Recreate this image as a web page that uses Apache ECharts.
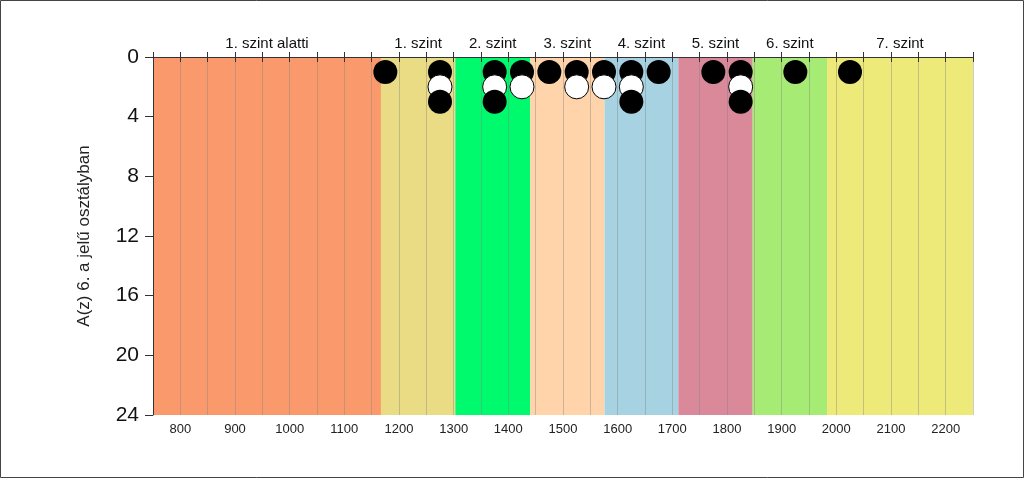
<!DOCTYPE html>
<html>
<head>
<meta charset="utf-8">
<script src="https://cdn.jsdelivr.net/npm/echarts@6/dist/echarts.min.js"></script>
<style>
  html, body { margin: 0; padding: 0; background: #fff; }
  #chart { width: 1024px; height: 478px; }
</style>
</head>
<body>
<div id="chart"></div>
<script>
// szintek (sávok) a skálán
const levelNames = ['1. szint alatti', '1. szint', '2. szint', '3. szint', '4. szint', '5. szint', '6. szint', '7. szint']
const levelBounds = [750, 1167, 1303, 1440, 1576, 1711, 1847, 1983, 2250]
const levelColors = ['#fa9a6c', '#e9dc84', '#00fa6e', '#ffd4aa', '#a6d2e2', '#d9899a', '#a6ec74', '#edea7a']

// tanulók pontjai, soronként (1., 2., 3. sor)
const row1X = [1175, 1275, 1375, 1425, 1475, 1525, 1575, 1625, 1675, 1775, 1825, 1925, 2025]
const row2X = [1275, 1375, 1425, 1525, 1575, 1625, 1825]
const row3X = [1275, 1375, 1625, 1825]
const rowY = [1, 2, 3]

// tengelyek
const xMin = 750
const xMax = 2250
const xStep = 50
const yMax = 24
const yStep = 4
const yName = 'A(z) 6. a jelű osztályban'

const bands = levelNames.map((name, i) => [
  { name: name, xAxis: levelBounds[i], itemStyle: { color: levelColors[i] } },
  { xAxis: levelBounds[i + 1] }
])

const chart = echarts.init(document.getElementById('chart'))
chart.setOption({
  animation: false,
  grid: { left: 153, right: 51, top: 57, bottom: 63 },
  graphic: [{
    type: 'rect',
    shape: { x: 0.5, y: 0.5, width: 1023, height: 477 },
    style: { fill: 'none', stroke: '#444', lineWidth: 1 },
    silent: true
  }],
  xAxis: [{
    type: 'value',
    position: 'bottom',
    min: xMin, max: xMax, interval: xStep,
    z: 3,
    axisLine: { lineStyle: { color: '#333' } },
    axisTick: { length: 5, lineStyle: { color: '#333' } },
    axisLabel: {
      color: '#222', fontFamily: 'Liberation Sans', fontSize: 13, margin: 8,
      formatter: v => (v % 100 === 0 ? String(v) : '')
    },
    splitLine: { show: true, lineStyle: { color: 'rgba(130,130,130,0.4)', width: 1 } }
  }, {
    type: 'value',
    position: 'top',
    min: xMin, max: xMax, interval: xStep,
    z: 3,
    axisLine: { lineStyle: { color: '#333' } },
    axisTick: { length: 5, lineStyle: { color: '#333' } },
    axisLabel: { show: false },
    splitLine: { show: false }
  }],
  yAxis: {
    type: 'value',
    inverse: true,
    min: 0, max: yMax, interval: yStep,
    z: 3,
    name: yName,
    nameLocation: 'middle',
    nameGap: 60,
    nameTextStyle: { color: '#222', fontFamily: 'Liberation Sans', fontSize: 17 },
    axisLine: { show: true, lineStyle: { color: '#333' } },
    axisTick: { show: true, length: 8, lineStyle: { color: '#333' } },
    axisLabel: { color: '#111', fontFamily: 'Liberation Sans', fontSize: 21, margin: 14 },
    splitLine: { show: false }
  },
  series: [{
    type: 'line',
    data: [],
    z: 1,
    silent: true,
    markArea: {
      silent: true,
      label: {
        show: true, position: 'top', distance: 6,
        color: '#111', fontFamily: 'Liberation Sans', fontSize: 15
      },
      data: bands
    }
  }, {
    type: 'scatter',
    z: 5,
    symbolSize: 24,
    itemStyle: { color: '#000', opacity: 1 },
    data: row1X.map(x => [x, rowY[0]])
  }, {
    type: 'scatter',
    z: 6,
    symbolSize: 24,
    itemStyle: { color: '#fff', borderColor: '#000', borderWidth: 1, opacity: 1 },
    data: row2X.map(x => [x, rowY[1]])
  }, {
    type: 'scatter',
    z: 7,
    symbolSize: 24,
    itemStyle: { color: '#000', opacity: 1 },
    data: row3X.map(x => [x, rowY[2]])
  }]
})
</script>
</body>
</html>
